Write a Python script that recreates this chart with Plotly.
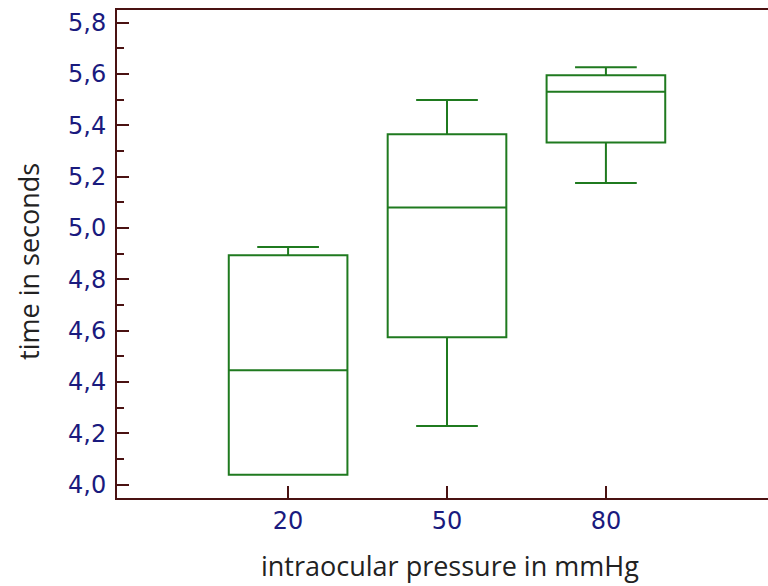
import plotly.graph_objects as go

pressure = [20, 50, 80]
q1 = [4.039, 4.574, 5.333]
median = [4.446, 5.080, 5.531]
q3 = [4.894, 5.365, 5.595]
lower = [4.039, 4.228, 5.175]
upper = [4.926, 5.498, 5.626]

y_ticks = [4.0, 4.2, 4.4, 4.6, 4.8, 5.0, 5.2, 5.4, 5.6, 5.8]

x_title = "intraocular pressure in mmHg"
y_title = "time in seconds"

green = "#1f7a1f"
axis_col = "#4a1212"
tick_font = dict(family="DejaVu Sans", size=24, color="#1a1a7e")
title_font = dict(family="Open Sans", size=27, color="#222222")

fig = go.Figure()
fig.add_trace(go.Box(
    x=pressure, q1=q1, median=median, q3=q3,
    lowerfence=lower, upperfence=upper,
    width=22.4, whiskerwidth=0.52,
    line=dict(color=green, width=2),
    fillcolor="rgba(0,0,0,0)",
    boxpoints=False, showlegend=False, hoverinfo="skip",
))

fig.update_layout(
    width=768, height=586,
    margin=dict(l=117, r=0, t=10, b=88),
    paper_bgcolor="white", plot_bgcolor="white",
    separators=",.",
    xaxis=dict(
        range=[-12.3, 110.6], tickvals=pressure,
        ticktext=[str(p) for p in pressure],
        showgrid=False, zeroline=False,
        showline=True, linecolor=axis_col, linewidth=2, mirror=True,
        ticks="inside", ticklen=12, tickwidth=2, tickcolor=axis_col,
        tickfont=tick_font,
    ),
    yaxis=dict(
        range=[3.948, 5.849], tickvals=y_ticks, tickformat=".1f",
        showgrid=False, zeroline=False,
        showline=True, linecolor=axis_col, linewidth=2, mirror=False,
        ticks="inside", ticklen=12, tickwidth=2, tickcolor=axis_col,
        minor=dict(dtick=0.1, ticks="inside", ticklen=7, tickwidth=2, tickcolor=axis_col),
        tickfont=tick_font, ticklabelstandoff=4,
    ),
    annotations=[
        dict(text=x_title, xref="paper", yref="paper", x=0.5115, y=-0.1393,
             xanchor="center", yanchor="middle", showarrow=False, font=title_font),
        dict(text=y_title, xref="paper", yref="paper", x=-0.1352, y=0.4857,
             xanchor="center", yanchor="middle", textangle=-90,
             showarrow=False, font=title_font),
    ],
)

fig.write_html(
    "out.html",
    config={"displayModeBar": False},
    post_script="document.body.style.margin='0';document.body.style.overflow='hidden';",
)
